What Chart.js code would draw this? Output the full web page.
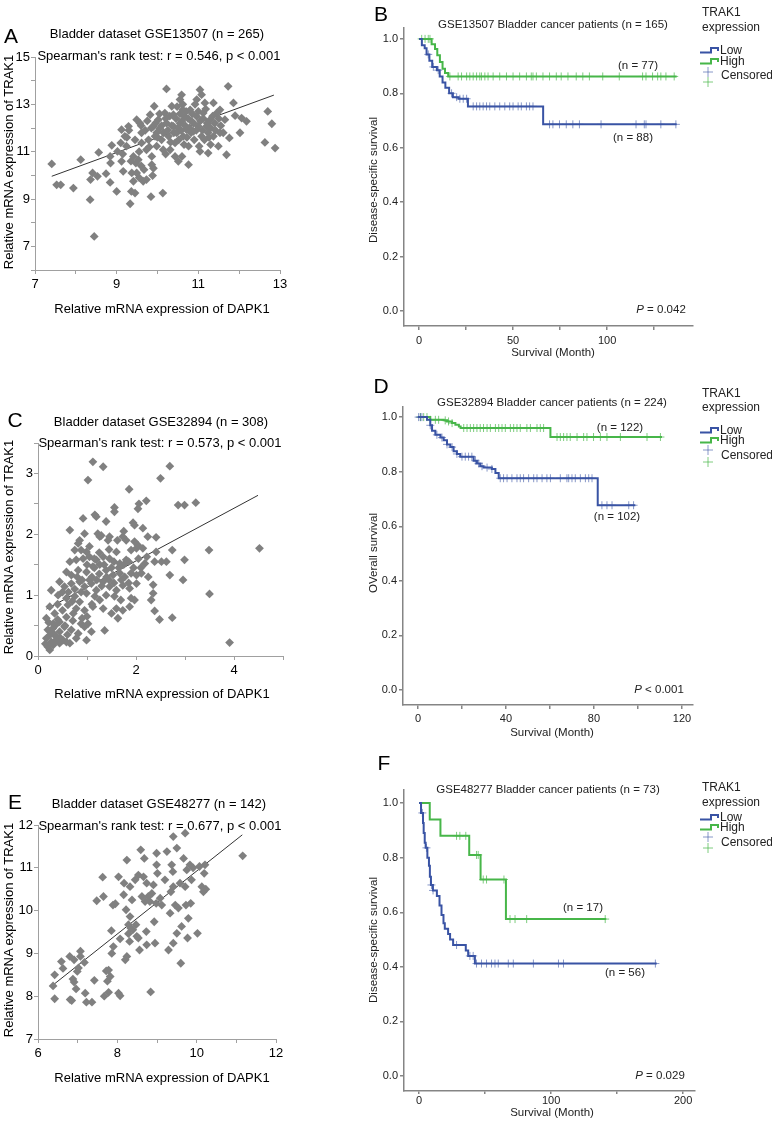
<!DOCTYPE html>
<html><head><meta charset="utf-8">
<script src="https://cdn.jsdelivr.net/npm/chart.js@4/dist/chart.umd.min.js"></script>
<style>
body{margin:0;background:#fff;width:772px;height:1126px;position:relative;overflow:hidden;font-family:"Liberation Sans",Arial,sans-serif;}
canvas{position:absolute;}
.t{position:absolute;white-space:nowrap;line-height:1;transform:translate(-50%,-50%);color:#000;}
.r{transform:translate(-50%,-50%) rotate(-90deg);}
.s{font-size:13px;}
.k{font-size:11.5px;color:#222;}
.L{font-size:21px;}
.lg{font-size:12px;color:#222;transform:translate(0,-50%);}
</style></head><body>
<script>
// ---------- DATA ----------
// Panel A: DAPK1 (x) vs TRAK1 (y), GSE13507
const pointsA = [[7.41,10.48],[7.53,9.6],[7.63,9.6],[7.94,9.46],[8.12,10.66],[8.35,8.97],[8.45,7.42],[8.36,9.82],[8.41,10.1],[8.53,9.96],[8.56,10.97],[8.74,10.07],[8.84,9.7],[8.88,11.27],[8.85,10.52],[8.84,10.8],[9.0,9.32],[9.02,11.01],[9.12,10.59],[9.1,11.37],[9.12,11.93],[9.16,10.17],[9.2,11.65],[9.24,11.23],[9.29,12.07],[9.33,8.8],[9.36,9.32],[9.41,9.75],[9.45,9.25],[9.49,10.1],[9.37,10.1],[9.41,10.8],[9.47,10.52],[9.53,10.66],[9.49,12.35],[9.57,12.2],[9.61,11.37],[9.61,11.8],[9.65,9.75],[9.73,9.82],[9.67,10.24],[9.73,11.08],[9.78,11.5],[9.82,12.56],[9.86,10.8],[9.86,10.45],[9.84,9.1],[9.88,9.99],[9.9,12.07],[9.94,11.65],[9.92,12.92],[9.98,11.23],[9.98,11.8],[10.02,12.35],[10.06,11.99],[10.1,11.5],[10.14,11.08],[10.13,9.25],[10.18,12.63],[10.22,12.21],[10.22,13.65],[10.27,11.65],[10.31,11.08],[10.35,12.92],[10.39,12.56],[10.39,12.07],[10.43,11.37],[10.43,10.8],[10.47,11.79],[10.51,10.59],[10.55,12.2],[10.55,13.2],[10.59,13.4],[10.62,12.77],[10.63,11.65],[10.67,12.49],[10.71,11.93],[10.76,11.23],[10.76,10.45],[10.8,12.77],[10.84,12.28],[10.88,11.86],[10.96,13.2],[10.96,12.49],[11.0,12.07],[11.04,13.62],[11.08,13.41],[11.02,11.23],[11.04,11.01],[11.08,11.65],[11.12,12.63],[11.16,13.06],[11.2,12.07],[11.24,11.8],[11.24,10.94],[11.29,12.35],[11.37,13.06],[11.37,11.65],[11.45,12.63],[11.49,11.23],[11.53,11.8],[11.53,12.77],[11.61,11.8],[11.65,12.35],[11.69,10.87],[11.73,13.76],[11.76,11.58],[11.86,13.06],[11.9,12.52],[12.02,11.8],[12.06,12.42],[12.18,12.28],[12.63,11.39],[12.7,12.7],[12.8,12.18],[12.88,11.15],[9.3,11.9],[9.45,11.5],[9.55,11.0],[9.6,12.1],[9.7,11.9],[9.75,12.3],[9.8,11.2],[9.85,12.0],[9.95,12.2],[10.0,11.6],[10.05,12.6],[10.1,12.1],[10.15,11.8],[10.2,12.4],[10.25,11.9],[10.3,12.5],[10.32,11.4],[10.35,12.1],[10.4,11.8],[10.45,12.4],[10.48,12.9],[10.5,12.0],[10.52,11.5],[10.55,12.6],[10.58,11.9],[10.6,12.3],[10.62,13.0],[10.65,11.3],[10.68,12.1],[10.7,12.7],[10.72,11.6],[10.75,12.4],[10.78,12.0],[10.82,11.8],[10.85,12.6],[10.88,12.2],[10.9,11.5],[10.92,13.0],[10.95,11.9],[11.0,12.7],[11.05,12.3],[11.1,11.9],[11.12,12.4],[11.15,11.5],[11.18,12.8],[11.22,12.2],[11.26,11.6],[11.3,12.0],[11.35,12.5],[11.4,12.2],[11.42,11.9],[11.5,12.4],[11.55,12.1],[11.3,11.3],[10.6,10.8],[10.2,10.9],[9.9,10.3],[9.6,10.4],[9.35,10.6],[9.55,9.9],[9.25,11.6],[9.15,10.9]];
const fitA = [[7.41,9.96],[12.85,13.39]];

// Panel C: GSE32894
const pointsC = [[1.12,3.19],[1.33,3.11],[1.02,2.89],[2.69,3.12],[2.5,2.92],[1.86,2.74],[2.21,2.55],[2.06,2.5],[2.04,2.42],[2.86,2.48],[2.99,2.48],[3.22,2.52],[1.56,2.44],[1.56,2.37],[0.92,2.26],[1.16,2.32],[1.19,2.29],[1.39,2.21],[1.94,2.19],[1.97,2.15],[2.41,1.95],[2.14,2.1],[0.65,2.07],[1.22,2.01],[1.26,1.96],[1.29,1.98],[0.95,2.01],[0.85,1.9],[0.82,1.85],[1.43,1.9],[1.46,1.96],[1.73,1.96],[1.8,1.9],[1.97,1.88],[2.24,1.96],[2.04,1.82],[0.75,1.74],[0.88,1.74],[0.99,1.71],[1.05,1.8],[1.6,1.71],[1.9,1.74],[2.01,1.77],[2.14,1.77],[2.41,1.71],[2.52,1.55],[2.62,1.55],[2.74,1.74],[2.99,1.58],[3.49,1.74],[4.52,1.77],[2.22,1.63],[2.38,1.55],[0.65,1.55],[0.78,1.58],[0.92,1.6],[1.05,1.63],[1.19,1.58],[1.33,1.63],[1.46,1.6],[1.67,1.52],[1.8,1.58],[0.58,1.38],[0.68,1.33],[0.82,1.41],[0.99,1.38],[1.12,1.47],[1.26,1.5],[1.39,1.41],[1.53,1.33],[1.67,1.36],[1.77,1.3],[1.9,1.36],[2.01,1.33],[2.11,1.36],[2.69,1.33],[2.96,1.25],[2.18,1.52],[0.44,1.22],[0.54,1.14],[0.68,1.19],[0.85,1.22],[0.95,1.14],[1.09,1.19],[1.19,1.08],[1.33,1.22],[1.46,1.14],[1.6,1.08],[1.73,1.16],[1.87,1.11],[2.01,1.19],[2.35,1.17],[2.35,1.03],[2.31,0.92],[3.5,1.02],[0.27,1.08],[0.41,1.0],[0.58,0.95],[0.75,0.98],[0.85,0.89],[0.99,1.03],[1.16,0.98],[1.26,0.92],[1.39,1.0],[1.56,0.98],[1.69,0.92],[1.9,0.95],[1.97,0.92],[0.24,0.81],[0.34,0.7],[0.61,0.84],[0.78,0.78],[0.95,0.75],[1.12,0.81],[1.33,0.78],[1.5,0.7],[1.6,0.78],[1.73,0.75],[1.87,0.81],[2.38,0.74],[2.48,0.6],[2.74,0.63],[3.91,0.22],[0.17,0.62],[0.31,0.53],[0.44,0.56],[0.58,0.64],[0.71,0.58],[0.88,0.53],[1.02,0.53],[1.36,0.42],[1.63,0.62],[0.2,0.43],[0.31,0.37],[0.44,0.4],[0.54,0.48],[0.68,0.43],[0.82,0.37],[0.95,0.48],[1.09,0.4],[0.17,0.29],[0.27,0.23],[0.37,0.32],[0.51,0.26],[0.65,0.21],[0.78,0.29],[0.99,0.26],[0.2,0.15],[0.31,0.18],[0.44,0.21],[0.58,0.23],[0.24,0.1],[0.3,0.45],[0.4,0.6],[0.5,0.75],[0.55,0.5],[0.6,0.35],[0.7,0.9],[0.75,1.1],[0.8,1.3],[0.9,1.25],[1.0,1.5],[1.1,1.3],[1.15,1.45],[1.2,1.25],[1.25,1.35],[1.3,1.15],[1.35,1.5],[1.4,1.3],[1.45,1.25],[1.5,1.45],[1.55,1.2],[1.65,1.45],[1.7,1.25],[1.75,1.5],[1.85,1.2],[1.95,1.45],[2.05,1.6],[1.0,0.65],[1.1,0.85],[0.9,0.62],[0.25,0.35],[0.35,0.25],[0.45,0.3],[0.15,0.2],[0.22,0.55],[0.4,0.85],[0.62,1.05],[0.72,0.7],[0.5,1.05],[0.88,1.05],[1.05,1.25],[1.15,1.6],[1.25,1.7],[1.45,1.75],[1.55,1.55],[1.62,1.9],[1.75,2.05],[1.85,1.55],[2.1,1.45],[2.25,1.3],[0.35,0.5]];
const fitC = [[0.17,0.77],[4.49,2.64]];

// Panel E: GSE48277
const pointsE = [[6.38,8.24],[6.42,8.5],[6.42,7.94],[6.59,8.81],[6.63,8.65],[6.8,8.93],[6.81,7.92],[6.85,7.9],[6.91,8.85],[6.88,8.4],[6.91,8.33],[6.96,8.17],[6.99,8.58],[7.02,8.66],[7.07,9.05],[7.07,8.93],[7.17,8.79],[7.19,8.07],[7.22,7.86],[7.36,7.86],[7.42,8.37],[7.48,10.23],[7.63,10.78],[7.65,10.33],[7.67,8.0],[7.72,8.59],[7.78,8.61],[7.75,8.35],[7.82,8.46],[7.78,8.09],[7.85,9.53],[7.86,9.0],[7.9,9.16],[7.89,10.13],[7.95,10.16],[8.03,10.79],[8.03,8.07],[8.07,8.01],[8.07,9.34],[8.16,10.37],[8.17,10.64],[8.22,10.02],[8.2,8.85],[8.24,8.93],[8.28,9.67],[8.28,9.46],[8.24,11.18],[8.31,9.28],[8.32,10.56],[8.37,10.25],[8.32,9.86],[8.34,9.59],[8.39,9.55],[8.45,10.72],[8.47,9.67],[8.53,9.36],[8.49,9.4],[8.53,10.83],[8.56,9.08],[8.59,11.42],[8.62,10.33],[8.66,10.79],[8.68,11.22],[8.7,10.21],[8.73,9.51],[8.74,9.2],[8.74,10.64],[8.78,10.33],[8.82,10.21],[8.87,10.4],[8.84,8.1],[8.91,10.6],[8.93,9.74],[8.95,9.24],[8.98,10.17],[8.99,11.07],[8.99,11.34],[9.01,10.87],[9.08,10.29],[9.12,10.13],[9.2,10.72],[9.25,11.38],[9.29,9.08],[9.33,9.94],[9.35,10.44],[9.37,11.07],[9.4,10.91],[9.41,11.73],[9.41,9.24],[9.41,10.56],[9.46,10.13],[9.5,9.47],[9.5,11.46],[9.54,10.06],[9.58,10.64],[9.6,8.77],[9.62,9.63],[9.67,11.22],[9.71,11.81],[9.71,10.56],[9.73,10.13],[9.75,10.95],[9.77,9.36],[9.83,11.07],[9.85,10.17],[10.02,9.47],[10.07,11.03],[10.13,10.56],[10.17,10.44],[10.19,10.87],[10.21,11.07],[10.23,10.5],[11.16,11.28],[9.79,9.82],[9.87,10.72],[9.91,11.0]];
const fitE = [[6.39,8.27],[11.15,11.77]];

// Kaplan-Meier curves: times (months) and survival probability
const kmB_lowT  = [0,1.5,3,4,5.5,7,9.5,11,12.5,14,16,18,21,26,66,137];
const kmB_lowS  = [1,0.977,0.966,0.943,0.92,0.897,0.885,0.862,0.84,0.82,0.80,0.786,0.78,0.752,0.686,0.686];
const kmB_highT = [0,6.7,8.5,9.7,11.1,12.5,13.8,15.5,137];
const kmB_highS = [1,0.98,0.963,0.94,0.915,0.89,0.875,0.862,0.862];
const censB_low  = [4.9,7.6,10.2,17.3,20,21.7,23.5,25.3,28.8,30.6,32.3,34.1,35.9,37.6,40.3,42.9,45.6,48.2,50,52.7,54.4,57.1,58.8,60.6,69.4,71.2,74.7,78.3,81.8,85.3,96.8,115.4,119.8,120.7,128.6,136.6];
const censB_high = [1.4,3.2,4.9,5.8,16.4,20.8,22.6,25.3,27,28.8,30.6,32.3,33.2,35,36.7,39.4,42.9,46.5,50,53.5,57.1,59.7,60.6,62.4,65.9,69.4,73,75.6,79.2,83.6,87.1,90.6,97.7,106.5,118.9,120.7,124.2,126.9,128.6,131.3,135.7];

const kmD_lowT  = [0,4.1,5.6,6.4,7.9,10.2,11.7,13.2,14.7,16.2,17.7,19.2,25.3,26.8,28.3,29.8,33.6,35.2,36.7,81.7,98.8];
const kmD_lowS  = [1,0.99,0.97,0.95,0.935,0.925,0.915,0.9,0.89,0.875,0.865,0.855,0.84,0.83,0.82,0.815,0.81,0.795,0.776,0.677,0.677];
const kmD_highT = [0,5.6,11.7,13.2,15.5,17,18.6,19.4,60.2,110.9];
const kmD_highS = [1,0.99,0.988,0.984,0.978,0.972,0.966,0.96,0.927,0.927];
const censD_low  = [0.3,1.1,1.8,5.6,8.6,10.9,13.2,15.5,17.7,20,21.5,23,24.5,26.1,27.6,29.1,31.4,33.6,37.4,38.9,40.5,42.7,45,46.5,48,50.3,52.6,54.1,56.4,58.6,60.2,64.7,67.7,68.5,70,71.5,73.8,76.1,77.6,79.1,83.6,85.9,88.2,95.8,98];
const censD_high = [1.1,2.6,4.1,5.6,7.9,9.4,12.4,13.9,15.5,20.8,22.3,23.8,25.3,26.8,28.3,29.8,31.4,32.9,35.2,36.7,38.2,39.7,42,43.5,45,46.5,49.5,51.1,54.1,55.6,57.1,63.2,64.7,66.2,67.7,69.2,72.3,75.3,76.8,79.8,82.9,85.9,92,104.1,110.2];

const kmF_lowT  = [0,1.5,3,3.5,4.3,5,6.3,7.5,8.2,9,10.5,13.5,15.5,17,18.5,19.5,22,23.5,25.8,35.4,37.2,42.3,180];
const kmF_lowS  = [1,0.964,0.927,0.89,0.855,0.836,0.8,0.77,0.73,0.7,0.68,0.66,0.625,0.59,0.56,0.54,0.52,0.5,0.48,0.46,0.44,0.412,0.412];
const kmF_highT = [0,8.1,16.2,38,46.6,65.8,141.8];
const kmF_highS = [1,0.94,0.88,0.81,0.72,0.575,0.575];
const censF_low  = [2.5,5.6,9.4,10.6,28.4,38.5,41,43.5,47.3,51.1,54.9,57.5,60,67.6,71.4,86.6,105.6,109.4,179];
const censF_high = [28.4,30.9,35.4,43.5,44.8,48.6,51.1,64.3,68.9,72.7,81.5,141];

// Tick values / labels
const ticksA_x=[7,8,9,10,11,12,13], labelsA_x=[7,9,11,13];
const ticksA_y=[6,7,8,9,10,11,12,13,14,15], labelsA_y=[7,9,11,13,15];
const ticksC_x=[0,1,2,3,4,5], labelsC_x=[0,2,4];
const ticksC_y=[0,0.5,1,1.5,2,2.5,3,3.5], labelsC_y=[0,1,2,3];
const ticksE_x=[6,7,8,9,10,11,12], labelsE_x=[6,8,10,12];
const ticksE_y=[7,8,9,10,11,12], labelsE_y=[7,8,9,10,11,12];
const ticksB_x=[0,25,50,75,100,125], labelsB_x=[0,50,100];
const ticksD_x=[0,20,40,60,80,100,120], labelsD_x=[0,40,80,120];
const ticksF_x=[0,50,100,150,200], labelsF_x=[0,100,200];
const ticksKM_y=[0,0.2,0.4,0.6,0.8,1.0];

// ---------- DRAWING ----------
const BLUE='#3953a4', GREEN='#47b649';
const FONT='"Liberation Sans", Arial, sans-serif';

function axis(pos,min,max,ticks,labels,fmt,o){
  return {
    type:'linear', position:pos, min:min, max:max,
    afterBuildTicks:s=>{ s.ticks = ticks.map(v=>({value:v})); },
    afterFit:s=>{ if(pos==='left') s.width=o.size; else s.height=o.size; },
    ticks:{autoSkip:false,maxRotation:0,minRotation:0,padding:o.pad,color:o.color,
      font:{family:FONT,size:o.fs},
      callback:v=>labels.includes(v)?fmt(v):''},
    grid:{display:true,drawOnChartArea:false,drawTicks:true,tickLength:o.tl,color:o.bc,lineWidth:o.bw},
    border:{display:true,color:o.bc,width:o.bw}
  };
}
function makeCanvas(left,top,w,h){
  const c=document.createElement('canvas');
  c.width=w;c.height=h;c.style.left=left+'px';c.style.top=top+'px';
  c.style.width=w+'px';c.style.height=h+'px';
  document.body.appendChild(c);return c;
}
const toXY = arr => arr.map(p=>({x:p[0],y:p[1]}));
const curve = (T,S) => T.map((t,i)=>({x:t,y:S[i]}));
function survAt(T,S,t){ let v=S[0]; for(let i=0;i<T.length;i++){ if(T[i]<=t) v=S[i]; } return v; }
const cens = (C,T,S) => C.map(t=>({x:t,y:survAt(T,S,t)}));

function scatterPanel(rect,area,pts,fit,xr,yr,tx,lx,ty,ly){
  const c=makeCanvas(rect[0],rect[1],rect[2],rect[3]);
  const ao={fs:13,color:'#000',bc:'#a0a0a0',bw:1,tl:4,pad:1};
  new Chart(c,{type:'scatter',
    data:{datasets:[
      {data:toXY(pts),pointStyle:'rectRot',pointRadius:4.4,backgroundColor:'#808080',borderWidth:0,pointBorderWidth:0},
      {data:toXY(fit),showLine:true,borderColor:'#333',borderWidth:1,pointRadius:0,fill:false}
    ]},
    options:{responsive:false,animation:false,devicePixelRatio:1,events:[],
      layout:{padding:{left:0,top:area[1]-rect[1],right:rect[0]+rect[2]-area[2],bottom:0}},
      plugins:{legend:{display:false},tooltip:{enabled:false}},
      scales:{
        x:axis('bottom',xr[0],xr[1],tx,lx,v=>String(v),Object.assign({},ao,{size:rect[1]+rect[3]-area[3],pad:3})),
        y:axis('left',yr[0],yr[1],ty,ly,v=>String(v),Object.assign({},ao,{size:area[0]-rect[0]}))
      }}
  });
}

const kmLegend={id:'kmLegend',afterDraw(chart,args,o){
  if(!o||o.ox===undefined) return;
  const ctx=chart.ctx, ox=o.ox, oy=o.oy;
  ctx.save(); ctx.lineWidth=2;
  [[o.low,BLUE],[o.high,GREEN]].forEach(([y,col])=>{
    ctx.strokeStyle=col; ctx.beginPath();
    ctx.moveTo(700-ox,y+2.5-oy); ctx.lineTo(711-ox,y+2.5-oy); ctx.lineTo(711-ox,y-2-oy);
    ctx.lineTo(718-ox,y-2-oy); ctx.lineTo(718-ox,y+1-oy); ctx.stroke();
  });
  ctx.lineWidth=1;
  [[o.c1,'rgba(57,83,164,0.6)'],[o.c2,'rgba(71,182,73,0.7)']].forEach(([y,col])=>{
    ctx.strokeStyle=col; ctx.beginPath();
    ctx.moveTo(703-ox,y-oy); ctx.lineTo(713-ox,y-oy);
    ctx.moveTo(708-ox,y-5-oy); ctx.lineTo(708-ox,y+5-oy); ctx.stroke();
  });
  ctx.restore();
}};

function kmPanel(rect,area,lowT,lowS,highT,highS,cLow,cHigh,xr,yr,tx,lx,leg,xpad,xtl){
  const c=makeCanvas(rect[0],rect[1],rect[2],rect[3]);
  const ao={fs:11,color:'#222',bc:'#858585',bw:1.5,tl:4,pad:2};
  new Chart(c,{type:'scatter',
    data:{datasets:[
      {data:curve(lowT,lowS),showLine:true,stepped:true,borderColor:BLUE,borderWidth:2,pointRadius:0,fill:false},
      {data:curve(highT,highS),showLine:true,stepped:true,borderColor:GREEN,borderWidth:2,pointRadius:0,fill:false},
      {data:cens(cLow,lowT,lowS),pointStyle:'cross',pointRadius:4,pointBorderWidth:1,borderColor:'rgba(57,83,164,0.6)',backgroundColor:'rgba(57,83,164,0.6)'},
      {data:cens(cHigh,highT,highS),pointStyle:'cross',pointRadius:4,pointBorderWidth:1,borderColor:'rgba(71,182,73,0.7)',backgroundColor:'rgba(71,182,73,0.7)'}
    ]},
    options:{responsive:false,animation:false,devicePixelRatio:1,events:[],
      layout:{padding:{left:0,top:area[1]-rect[1],right:rect[0]+rect[2]-area[2],bottom:0}},
      plugins:{legend:{display:false},tooltip:{enabled:false},kmLegend:leg},
      scales:{
        x:axis('bottom',xr[0],xr[1],tx,lx,v=>String(v),Object.assign({},ao,{size:rect[1]+rect[3]-area[3],pad:xpad,tl:xtl})),
        y:axis('left',yr[0],yr[1],ticksKM_y,ticksKM_y,v=>v.toFixed(1),Object.assign({},ao,{size:area[0]-rect[0]}))
      }},
    plugins:[kmLegend]
  });
}

scatterPanel([0,0,330,330],[35,57,280,270],pointsA,fitA,[7,13],[6,15],ticksA_x,labelsA_x,ticksA_y,labelsA_y);
scatterPanel([0,380,330,340],[38,443,283,656],pointsC,fitC,[0,5],[0,3.5],ticksC_x,labelsC_x,ticksC_y,labelsC_y);
scatterPanel([0,760,330,340],[38,825,276,1039],pointsE,fitE,[6,12],[7,12],ticksE_x,labelsE_x,ticksE_y,labelsE_y);

kmPanel([340,0,432,370],[404,28,693,326],kmB_lowT,kmB_lowS,kmB_highT,kmB_highS,censB_low,censB_high,[-8,145.7],[-0.055,1.04],ticksB_x,labelsB_x,{ox:340,oy:0,low:50,high:61,c1:72,c2:82},4.5,4);
kmPanel([340,380,432,370],[403,407,693,705],kmD_lowT,kmD_lowS,kmD_highT,kmD_highS,censD_low,censD_high,[-6.8,125],[-0.055,1.037],ticksD_x,labelsD_x,{ox:340,oy:380,low:430,high:440,c1:450,c2:462},3.5,4);
kmPanel([340,760,432,366],[404,790,695,1091],kmF_lowT,kmF_lowS,kmF_highT,kmF_highS,censF_low,censF_high,[-11.4,209],[-0.055,1.048],ticksF_x,labelsF_x,{ox:340,oy:760,low:817,high:827,c1:837,c2:848},0,3);
</script>

<!-- Panel letters -->
<div class="t L" style="left:11px;top:35px">A</div>
<div class="t L" style="left:381px;top:13px">B</div>
<div class="t L" style="left:15px;top:419px">C</div>
<div class="t L" style="left:381px;top:385px">D</div>
<div class="t L" style="left:15px;top:801px">E</div>
<div class="t L" style="left:384px;top:762px">F</div>

<!-- Scatter texts -->
<div class="t s" style="left:157px;top:33px">Bladder dataset GSE13507 (n = 265)</div>
<div class="t s" style="left:159px;top:55px">Spearman's rank test: r = 0.546, p &lt; 0.001</div>
<div class="t s r" style="left:8px;top:162px">Relative mRNA expression of TRAK1</div>
<div class="t s" style="left:162px;top:308px">Relative mRNA expression of DAPK1</div>

<div class="t s" style="left:161px;top:421px">Bladder dataset GSE32894 (n = 308)</div>
<div class="t s" style="left:160px;top:442px">Spearman's rank test: r = 0.573, p &lt; 0.001</div>
<div class="t s r" style="left:8px;top:547px">Relative mRNA expression of TRAK1</div>
<div class="t s" style="left:162px;top:693px">Relative mRNA expression of DAPK1</div>

<div class="t s" style="left:159px;top:803px">Bladder dataset GSE48277 (n = 142)</div>
<div class="t s" style="left:160px;top:825px">Spearman's rank test: r = 0.677, p &lt; 0.001</div>
<div class="t s r" style="left:8px;top:930px">Relative mRNA expression of TRAK1</div>
<div class="t s" style="left:162px;top:1077px">Relative mRNA expression of DAPK1</div>

<!-- KM B -->
<div class="t k" style="left:553px;top:25px">GSE13507 Bladder cancer patients (n = 165)</div>
<div class="t k r" style="left:374px;top:180px">Disease-specific survival</div>
<div class="t k" style="left:553px;top:353px">Survival (Month)</div>
<div class="t k" style="left:638px;top:66px">(n = 77)</div>
<div class="t k" style="left:633px;top:138px">(n = 88)</div>
<div class="t k" style="left:661px;top:310px"><i>P</i> = 0.042</div>
<div class="t lg" style="left:702px;top:12px">TRAK1</div>
<div class="t lg" style="left:702px;top:27px">expression</div>
<div class="t lg" style="left:720px;top:50px">Low</div>
<div class="t lg" style="left:720px;top:61px">High</div>
<div class="t lg" style="left:721px;top:75px">Censored</div>

<!-- KM D -->
<div class="t k" style="left:552px;top:403px">GSE32894 Bladder cancer patients (n = 224)</div>
<div class="t k r" style="left:374px;top:553px">OVerall survival</div>
<div class="t k" style="left:552px;top:733px">Survival (Month)</div>
<div class="t k" style="left:620px;top:428px">(n = 122)</div>
<div class="t k" style="left:617px;top:517px">(n = 102)</div>
<div class="t k" style="left:659px;top:690px"><i>P</i> &lt; 0.001</div>
<div class="t lg" style="left:702px;top:393px">TRAK1</div>
<div class="t lg" style="left:702px;top:407px">expression</div>
<div class="t lg" style="left:720px;top:430px">Low</div>
<div class="t lg" style="left:720px;top:440px">High</div>
<div class="t lg" style="left:721px;top:455px">Censored</div>

<!-- KM F -->
<div class="t k" style="left:548px;top:790px">GSE48277 Bladder cancer patients (n = 73)</div>
<div class="t k r" style="left:374px;top:940px">Disease-specific survival</div>
<div class="t k" style="left:552px;top:1113px">Survival (Month)</div>
<div class="t k" style="left:583px;top:908px">(n = 17)</div>
<div class="t k" style="left:625px;top:973px">(n = 56)</div>
<div class="t k" style="left:660px;top:1076px"><i>P</i> = 0.029</div>
<div class="t lg" style="left:702px;top:787px">TRAK1</div>
<div class="t lg" style="left:702px;top:802px">expression</div>
<div class="t lg" style="left:720px;top:817px">Low</div>
<div class="t lg" style="left:720px;top:827px">High</div>
<div class="t lg" style="left:721px;top:842px">Censored</div>
</body></html>
